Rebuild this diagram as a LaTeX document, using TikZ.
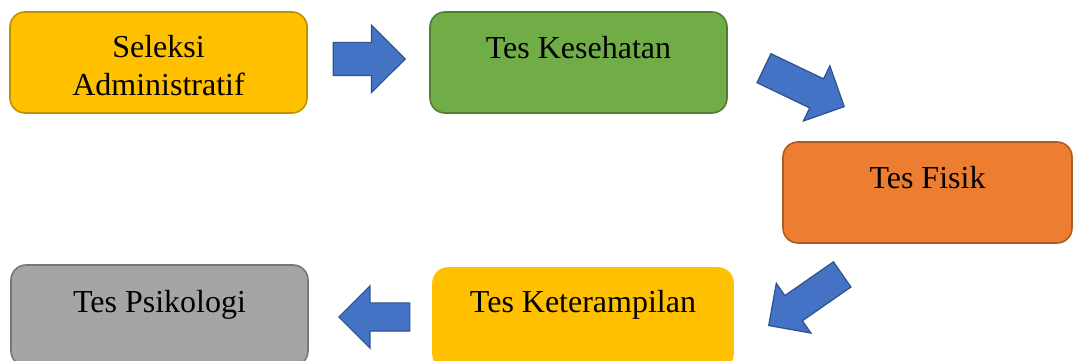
\documentclass[tikz,border=0pt]{standalone}
\usepackage{fontspec}
\setmainfont{Liberation Serif}
\usetikzlibrary{shapes.arrows}
\definecolor{goldfill}{HTML}{FFC000}
\definecolor{golddraw}{HTML}{BF9000}
\definecolor{greenfill}{HTML}{70AD47}
\definecolor{greendraw}{HTML}{507E32}
\definecolor{orangefill}{HTML}{ED7D31}
\definecolor{orangedraw}{HTML}{AE5A21}
\definecolor{grayfill}{HTML}{A5A5A5}
\definecolor{graydraw}{HTML}{787878}
\definecolor{bluefill}{HTML}{4472C4}
\definecolor{bluedraw}{HTML}{2F528F}
\begin{document}
\begin{tikzpicture}[x=1pt,y=1pt,
  stage/.style={rectangle,rounded corners=15pt,line width=1.6pt,minimum height=101pt,inner sep=0pt},
  stagetext/.style={anchor=north,align=center,inner sep=0pt,font=\fontsize{32}{38}\selectfont},
  flow/.style={single arrow,anchor=tip,fill=bluefill,draw=bluedraw,line width=1.2pt,inner xsep=0pt,
    text height=0pt,text depth=0pt,minimum width=1pt}]
\useasboundingbox (0,0) rectangle (1073,361);
\clip (0,0) rectangle (1073,361);
% the five stages
\node[stage,fill=goldfill,draw=golddraw,minimum width=297pt] (adm) at (158.5,298.5) {};
\node[stage,fill=greenfill,draw=greendraw,minimum width=297pt] (kes) at (578.5,298.5) {};
\node[stage,fill=orangefill,draw=orangedraw,minimum width=289pt] (fis) at (927.5,168.5) {};
\node[stage,fill=goldfill,draw=goldfill,minimum width=300pt] (ket) at (583,42.5) {};
\node[stage,fill=grayfill,draw=graydraw,minimum width=297pt] (psi) at (159.5,45.5) {};
\node[stagetext] (adm-t) at ([yshift=-24pt]adm.north) {Seleksi\\Administratif};
\node[stagetext] (kes-t) at ([yshift=-25pt]kes.north) {Tes Kesehatan};
\node[stagetext] (fis-t) at ([yshift=-25pt]fis.north) {Tes Fisik};
\node[stagetext] (ket-t) at ([yshift=-23pt]ket.north) {Tes Keterampilan};
\node[stagetext] (psi-t) at ([yshift=-26pt]psi.north) {Tes Psikologi};
% block arrows between them, placed by their tips
\node[flow,minimum height=72pt,inner ysep=16pt,single arrow head extend=17pt] (a1) at (406,302) {};
\node[flow,minimum height=89pt,inner ysep=15.5pt,single arrow head extend=14.5pt,rotate=-25.6] (a2) at (845,254) {};
\node[flow,minimum height=89.5pt,inner ysep=14.75pt,single arrow head extend=15pt,rotate=-145.2] (a3) at (768,35) {};
\node[flow,minimum height=71pt,inner ysep=13.5pt,single arrow head extend=17pt,rotate=180] (a4) at (338,44) {};
\end{tikzpicture}
\end{document}
